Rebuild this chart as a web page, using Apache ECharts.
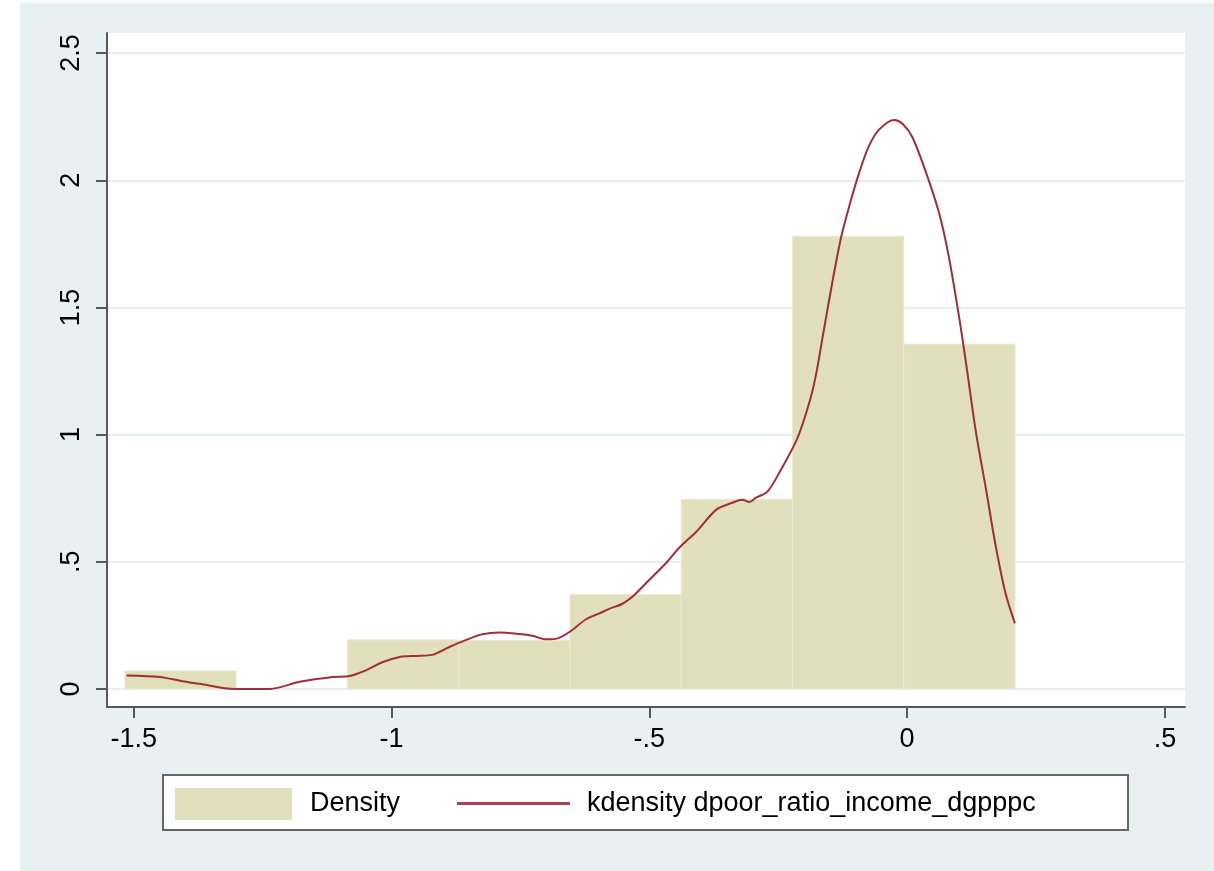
<!DOCTYPE html>
<html>
<head>
<meta charset="utf-8">
<script src="https://cdn.jsdelivr.net/npm/echarts@6/dist/echarts.min.js"></script>
<style>
html,body{margin:0;padding:0;background:#ffffff;}
#chart{width:1214px;height:871px;}
</style>
</head>
<body>
<div id="chart"></div>
<script>
// ---- data ----
const binStart = [-1.5174, -1.3016, -1.0857, -0.8699, -0.6540, -0.4382, -0.2224, -0.0065];
const binEnd   = [-1.3016, -1.0857, -0.8699, -0.6540, -0.4382, -0.2224, -0.0065, 0.2093];
const densityValues = [0.071, 0, 0.193, 0.190, 0.372, 0.746, 1.780, 1.356];

const kdX = [-1.514, -1.45, -1.405, -1.372, -1.328, -1.30, -1.236, -1.178, -1.114, -1.081,
  -1.048, -1.017, -0.984, -0.952, -0.921, -0.888, -0.855, -0.824, -0.791, -0.752,
  -0.727, -0.700, -0.678, -0.655, -0.622, -0.597, -0.578, -0.552, -0.533, -0.500,
  -0.467, -0.442, -0.409, -0.370, -0.339, -0.320, -0.306, -0.293, -0.271, -0.248,
  -0.213, -0.190, -0.177, -0.164, -0.145, -0.128, -0.112, -0.093, -0.074, -0.054,
  -0.025, -0.009, 0.010, 0.036, 0.062, 0.081, 0.101, 0.114, 0.133, 0.153,
  0.172, 0.191, 0.209];
const kdY = [0.053, 0.047, 0.030, 0.020, 0.004, 0.000, 0.000, 0.028, 0.047, 0.051,
  0.075, 0.106, 0.126, 0.130, 0.134, 0.165, 0.193, 0.215, 0.222, 0.216,
  0.209, 0.195, 0.199, 0.224, 0.275, 0.297, 0.315, 0.335, 0.362, 0.429,
  0.496, 0.555, 0.618, 0.705, 0.732, 0.744, 0.735, 0.752, 0.776, 0.850,
  0.985, 1.124, 1.233, 1.382, 1.600, 1.776, 1.900, 2.030, 2.135, 2.200,
  2.237, 2.222, 2.170, 2.034, 1.871, 1.698, 1.460, 1.285, 1.016, 0.785,
  0.560, 0.375, 0.258];

const xTicks = [-1.5, -1, -0.5, 0, 0.5];
const xTickLabels = ['-1.5', '-1', '-.5', '0', '.5'];
const yTicks = [0, 0.5, 1, 1.5, 2, 2.5];
const yTickLabels = ['0', '.5', '1', '1.5', '2', '2.5'];

const seriesNames = ['Density', 'kdensity dpoor_ratio_income_dgpppc'];

// ---- chart ----
const FONT = '"Liberation Sans", Arial, Helvetica, sans-serif';
const FS = 27;
const barColor = '#E2DFBD';
const barEdge = '#ECEAD5';
const lineColor = '#9E2F3A';
const axisColor = '#585858';

function labelFor(ticks, labels) {
  return function (v) {
    for (let i = 0; i < ticks.length; i++) {
      if (Math.abs(ticks[i] - v) < 1e-9) return labels[i];
    }
    return '';
  };
}

const histData = binStart.map((s, i) => [s, binEnd[i], densityValues[i]]);
const kdData = kdX.map((x, i) => [x, kdY[i]]);

const chart = echarts.init(document.getElementById('chart'), null, {renderer: 'canvas'});
chart.setOption({
  backgroundColor: '#ffffff',
  animation: false,
  textStyle: {fontFamily: FONT},
  graphic: [
    {type: 'rect', z: -10, silent: true, shape: {x: 20, y: 3, width: 1194, height: 868}, style: {fill: '#E8F0F2'}},
    {type: 'rect', z: 1, silent: true, shape: {x: 163, y: 775, width: 965, height: 55}, style: {fill: '#ffffff', stroke: '#666666', lineWidth: 2}}
  ],
  grid: {
    left: 107, top: 33, right: 29, bottom: 164,
    show: true, backgroundColor: '#ffffff', borderWidth: 0
  },
  legend: [
    {
      data: [{name: seriesNames[0], icon: 'rect'}],
      left: 175, top: 788, padding: 0, z: 5,
      itemWidth: 117, itemHeight: 32,
      textStyle: {fontFamily: FONT, fontSize: FS, color: '#000', padding: [0, 0, 0, 13]},
      selectedMode: false
    },
    {
      data: [{name: seriesNames[1], icon: 'rect', itemStyle: {color: '#A8434D'}}],
      left: 457, top: 790, padding: 0, z: 5,
      itemWidth: 113, itemHeight: 3,
      textStyle: {fontFamily: FONT, fontSize: FS, color: '#000', padding: [0, 0, 0, 12]},
      selectedMode: false
    }
  ],
  xAxis: {
    type: 'value', min: -1.552, max: 0.539,
    axisLine: {show: true, onZero: false, lineStyle: {color: axisColor, width: 2}},
    axisTick: {show: true, length: 11, customValues: xTicks, lineStyle: {color: axisColor, width: 2}},
    axisLabel: {customValues: xTicks, formatter: labelFor(xTicks, xTickLabels), fontFamily: FONT, fontSize: FS, color: '#000', margin: 19},
    splitLine: {show: false}
  },
  yAxis: {
    type: 'value', min: -0.071, max: 2.579,
    axisLine: {show: true, onZero: false, lineStyle: {color: axisColor, width: 2}},
    axisTick: {show: true, length: 11, customValues: yTicks, lineStyle: {color: axisColor, width: 2}},
    axisLabel: {customValues: yTicks, formatter: labelFor(yTicks, yTickLabels), rotate: 90, fontFamily: FONT, fontSize: FS, color: '#000', margin: 22},
    splitLine: {show: true, lineStyle: {color: '#E6EEF0', width: 2}}
  },
  series: [
    {
      name: seriesNames[0],
      type: 'custom',
      itemStyle: {color: barColor},
      encode: {x: [0, 1], y: 2},
      data: histData,
      z: 2,
      renderItem: function (params, api) {
        const h = api.value(2);
        if (!(h > 0)) return null;
        const p0 = api.coord([api.value(0), h]);
        const p1 = api.coord([api.value(1), 0]);
        return {
          type: 'rect',
          shape: {x: p0[0], y: p0[1], width: p1[0] - p0[0], height: p1[1] - p0[1]},
          style: {fill: barColor, stroke: barEdge, lineWidth: 1}
        };
      }
    },
    {
      name: seriesNames[1],
      type: 'line',
      data: kdData,
      smooth: 0.3,
      symbol: 'none',
      z: 3,
      lineStyle: {color: lineColor, width: 2},
      itemStyle: {color: lineColor}
    }
  ]
});
</script>
</body>
</html>
